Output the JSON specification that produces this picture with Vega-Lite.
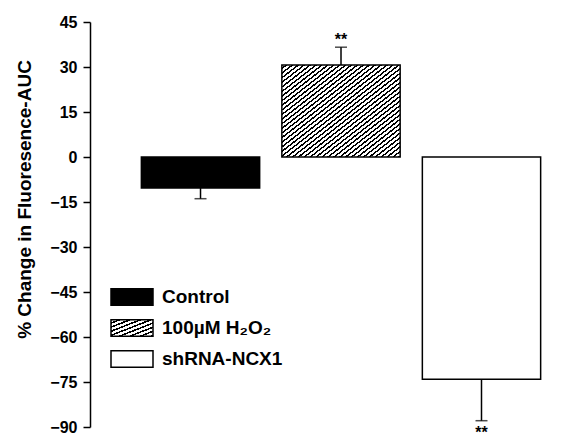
{
  "$schema": "https://vega.github.io/schema/vega-lite/v6.json",
  "width": 492,
  "height": 405,
  "autosize": "none",
  "padding": {"left": 90, "top": 22, "right": 0, "bottom": 10},
  "background": "white",
  "config": {
    "view": {"stroke": null},
    "font": "Liberation Sans"
  },
  "data": {
    "values": [
      {"group": "Control", "value": -10.3, "end": -13.9, "sig": ""},
      {"group": "100µM H₂O₂", "value": 30.7, "end": 36.6, "sig": "**"},
      {"group": "shRNA-NCX1", "value": -74.1, "end": -87.9, "sig": "**"}
    ]
  },
  "encoding": {
    "x": {
      "field": "group",
      "type": "nominal",
      "sort": null,
      "axis": null,
      "scale": {"domain": ["Control", "100µM H₂O₂", "shRNA-NCX1"], "paddingInner": 0.158, "paddingOuter": 0.33, "align": 0.554}
    }
  },
  "layer": [
    {
      "transform": [{"filter": "datum.group === '100µM H₂O₂'"}],
      "mark": {"type": "bar", "fillOpacity": 0.001, "strokeOpacity": 0,
        "fill": {"gradient": "linear", "id": "hatchLegend", "x1": 0, "y1": 0, "x2": 1, "y2": 1, "stops": [
                      {"offset": 0, "color": "#fff"}, {"offset": 0.075, "color": "#fff"}, {"offset": 0.075, "color": "#000"}, {"offset": 0.125, "color": "#000"},
                      {"offset": 0.125, "color": "#fff"}, {"offset": 0.2, "color": "#fff"}, {"offset": 0.2, "color": "#000"}, {"offset": 0.25, "color": "#000"},
                      {"offset": 0.25, "color": "#fff"}, {"offset": 0.325, "color": "#fff"}, {"offset": 0.325, "color": "#000"}, {"offset": 0.375, "color": "#000"},
                      {"offset": 0.375, "color": "#fff"}, {"offset": 0.45, "color": "#fff"}, {"offset": 0.45, "color": "#000"}, {"offset": 0.5, "color": "#000"},
                      {"offset": 0.5, "color": "#fff"}, {"offset": 0.575, "color": "#fff"}, {"offset": 0.575, "color": "#000"}, {"offset": 0.625, "color": "#000"},
                      {"offset": 0.625, "color": "#fff"}, {"offset": 0.7, "color": "#fff"}, {"offset": 0.7, "color": "#000"}, {"offset": 0.75, "color": "#000"},
                      {"offset": 0.75, "color": "#fff"}, {"offset": 0.825, "color": "#fff"}, {"offset": 0.825, "color": "#000"}, {"offset": 0.875, "color": "#000"},
                      {"offset": 0.875, "color": "#fff"}, {"offset": 0.95, "color": "#fff"}, {"offset": 0.95, "color": "#000"}, {"offset": 1, "color": "#000"}
                    ]}},
      "encoding": {
        "y": {"field": "value", "type": "quantitative"},
        "y2": {"datum": 0}
      }
    },
    {
      "transform": [{"filter": "datum.group !== '100µM H₂O₂'"}],
      "mark": {"type": "bar", "stroke": "black", "strokeWidth": 1.5},
      "encoding": {
        "y": {
          "field": "value",
          "type": "quantitative",
          "scale": {"domain": [-90, 45], "nice": false, "zero": false},
          "axis": {
            "values": [-90, -82.5, -75, -67.5, -60, -52.5, -45, -37.5, -30, -22.5, -15, -7.5, 0, 7.5, 15, 22.5, 30, 37.5, 45],
            "labelExpr": "datum.value % 15 === 0 ? datum.label : ''",
            "grid": false,
            "domainColor": "black",
            "domainWidth": 1.5,
            "tickColor": "black",
            "tickWidth": 1.5,
            "tickSize": {"condition": {"test": "datum.value % 15 === 0", "value": 7}, "value": 4},
            "labelPadding": 6,
            "labelFont": "Liberation Sans",
            "labelFontWeight": "bold",
            "labelFontSize": 16,
            "labelColor": "black",
            "title": "% Change in Fluoresence-AUC",
            "titleFont": "Liberation Sans",
            "titleFontWeight": "bold",
            "titleFontSize": 19,
            "titleColor": "black",
            "titleX": -60,
            "titleY": 177,
            "titleAlign": "center",
            "titleBaseline": "alphabetic",
            "titleAngle": -90
          }
        },
        "y2": {"datum": 0},
        "fill": {
          "field": "group",
          "type": "nominal",
          "sort": null,
          "scale": {
            "domain": ["Control", "100µM H₂O₂", "shRNA-NCX1"],
            "range": ["#000000", "url(#hatchLegend)", "#ffffff"]
          },
          "legend": {
            "title": null,
            "orient": "none",
            "legendX": 30.5,
            "legendY": 263.5,
            "symbolType": "M-2,-0.78H2V0.78H-2Z",
            "symbolSize": 441,
            "symbolStrokeWidth": 1.5,
            "symbolOpacity": 1,
            "labelFont": "Liberation Sans",
            "labelFontWeight": "bold",
            "labelFontSize": 19,
            "labelColor": "black",
            "labelOffset": 18.5,
            "rowPadding": 8,
            "labelLimit": 300
          }
        }
      }
    },
    {
      "transform": [{"filter": "datum.group === '100µM H₂O₂'"}],
      "mark": {"type": "bar", "stroke": "black", "strokeWidth": 1.5,
        "fill": {"gradient": "linear", "id": "hatchBar", "x1": 0, "y1": 0, "x2": 1, "y2": 1, "stops": [
                {"offset": 0, "color": "#fff"}, {"offset": 0.015, "color": "#fff"}, {"offset": 0.015, "color": "#000"}, {"offset": 0.025, "color": "#000"},
                {"offset": 0.025, "color": "#fff"}, {"offset": 0.04, "color": "#fff"}, {"offset": 0.04, "color": "#000"}, {"offset": 0.05, "color": "#000"},
                {"offset": 0.05, "color": "#fff"}, {"offset": 0.065, "color": "#fff"}, {"offset": 0.065, "color": "#000"}, {"offset": 0.075, "color": "#000"},
                {"offset": 0.075, "color": "#fff"}, {"offset": 0.09, "color": "#fff"}, {"offset": 0.09, "color": "#000"}, {"offset": 0.1, "color": "#000"},
                {"offset": 0.1, "color": "#fff"}, {"offset": 0.115, "color": "#fff"}, {"offset": 0.115, "color": "#000"}, {"offset": 0.125, "color": "#000"},
                {"offset": 0.125, "color": "#fff"}, {"offset": 0.14, "color": "#fff"}, {"offset": 0.14, "color": "#000"}, {"offset": 0.15, "color": "#000"},
                {"offset": 0.15, "color": "#fff"}, {"offset": 0.165, "color": "#fff"}, {"offset": 0.165, "color": "#000"}, {"offset": 0.175, "color": "#000"},
                {"offset": 0.175, "color": "#fff"}, {"offset": 0.19, "color": "#fff"}, {"offset": 0.19, "color": "#000"}, {"offset": 0.2, "color": "#000"},
                {"offset": 0.2, "color": "#fff"}, {"offset": 0.215, "color": "#fff"}, {"offset": 0.215, "color": "#000"}, {"offset": 0.225, "color": "#000"},
                {"offset": 0.225, "color": "#fff"}, {"offset": 0.24, "color": "#fff"}, {"offset": 0.24, "color": "#000"}, {"offset": 0.25, "color": "#000"},
                {"offset": 0.25, "color": "#fff"}, {"offset": 0.265, "color": "#fff"}, {"offset": 0.265, "color": "#000"}, {"offset": 0.275, "color": "#000"},
                {"offset": 0.275, "color": "#fff"}, {"offset": 0.29, "color": "#fff"}, {"offset": 0.29, "color": "#000"}, {"offset": 0.3, "color": "#000"},
                {"offset": 0.3, "color": "#fff"}, {"offset": 0.315, "color": "#fff"}, {"offset": 0.315, "color": "#000"}, {"offset": 0.325, "color": "#000"},
                {"offset": 0.325, "color": "#fff"}, {"offset": 0.34, "color": "#fff"}, {"offset": 0.34, "color": "#000"}, {"offset": 0.35, "color": "#000"},
                {"offset": 0.35, "color": "#fff"}, {"offset": 0.365, "color": "#fff"}, {"offset": 0.365, "color": "#000"}, {"offset": 0.375, "color": "#000"},
                {"offset": 0.375, "color": "#fff"}, {"offset": 0.39, "color": "#fff"}, {"offset": 0.39, "color": "#000"}, {"offset": 0.4, "color": "#000"},
                {"offset": 0.4, "color": "#fff"}, {"offset": 0.415, "color": "#fff"}, {"offset": 0.415, "color": "#000"}, {"offset": 0.425, "color": "#000"},
                {"offset": 0.425, "color": "#fff"}, {"offset": 0.44, "color": "#fff"}, {"offset": 0.44, "color": "#000"}, {"offset": 0.45, "color": "#000"},
                {"offset": 0.45, "color": "#fff"}, {"offset": 0.465, "color": "#fff"}, {"offset": 0.465, "color": "#000"}, {"offset": 0.475, "color": "#000"},
                {"offset": 0.475, "color": "#fff"}, {"offset": 0.49, "color": "#fff"}, {"offset": 0.49, "color": "#000"}, {"offset": 0.5, "color": "#000"},
                {"offset": 0.5, "color": "#fff"}, {"offset": 0.515, "color": "#fff"}, {"offset": 0.515, "color": "#000"}, {"offset": 0.525, "color": "#000"},
                {"offset": 0.525, "color": "#fff"}, {"offset": 0.54, "color": "#fff"}, {"offset": 0.54, "color": "#000"}, {"offset": 0.55, "color": "#000"},
                {"offset": 0.55, "color": "#fff"}, {"offset": 0.565, "color": "#fff"}, {"offset": 0.565, "color": "#000"}, {"offset": 0.575, "color": "#000"},
                {"offset": 0.575, "color": "#fff"}, {"offset": 0.59, "color": "#fff"}, {"offset": 0.59, "color": "#000"}, {"offset": 0.6, "color": "#000"},
                {"offset": 0.6, "color": "#fff"}, {"offset": 0.615, "color": "#fff"}, {"offset": 0.615, "color": "#000"}, {"offset": 0.625, "color": "#000"},
                {"offset": 0.625, "color": "#fff"}, {"offset": 0.64, "color": "#fff"}, {"offset": 0.64, "color": "#000"}, {"offset": 0.65, "color": "#000"},
                {"offset": 0.65, "color": "#fff"}, {"offset": 0.665, "color": "#fff"}, {"offset": 0.665, "color": "#000"}, {"offset": 0.675, "color": "#000"},
                {"offset": 0.675, "color": "#fff"}, {"offset": 0.69, "color": "#fff"}, {"offset": 0.69, "color": "#000"}, {"offset": 0.7, "color": "#000"},
                {"offset": 0.7, "color": "#fff"}, {"offset": 0.715, "color": "#fff"}, {"offset": 0.715, "color": "#000"}, {"offset": 0.725, "color": "#000"},
                {"offset": 0.725, "color": "#fff"}, {"offset": 0.74, "color": "#fff"}, {"offset": 0.74, "color": "#000"}, {"offset": 0.75, "color": "#000"},
                {"offset": 0.75, "color": "#fff"}, {"offset": 0.765, "color": "#fff"}, {"offset": 0.765, "color": "#000"}, {"offset": 0.775, "color": "#000"},
                {"offset": 0.775, "color": "#fff"}, {"offset": 0.79, "color": "#fff"}, {"offset": 0.79, "color": "#000"}, {"offset": 0.8, "color": "#000"},
                {"offset": 0.8, "color": "#fff"}, {"offset": 0.815, "color": "#fff"}, {"offset": 0.815, "color": "#000"}, {"offset": 0.825, "color": "#000"},
                {"offset": 0.825, "color": "#fff"}, {"offset": 0.84, "color": "#fff"}, {"offset": 0.84, "color": "#000"}, {"offset": 0.85, "color": "#000"},
                {"offset": 0.85, "color": "#fff"}, {"offset": 0.865, "color": "#fff"}, {"offset": 0.865, "color": "#000"}, {"offset": 0.875, "color": "#000"},
                {"offset": 0.875, "color": "#fff"}, {"offset": 0.89, "color": "#fff"}, {"offset": 0.89, "color": "#000"}, {"offset": 0.9, "color": "#000"},
                {"offset": 0.9, "color": "#fff"}, {"offset": 0.915, "color": "#fff"}, {"offset": 0.915, "color": "#000"}, {"offset": 0.925, "color": "#000"},
                {"offset": 0.925, "color": "#fff"}, {"offset": 0.94, "color": "#fff"}, {"offset": 0.94, "color": "#000"}, {"offset": 0.95, "color": "#000"},
                {"offset": 0.95, "color": "#fff"}, {"offset": 0.965, "color": "#fff"}, {"offset": 0.965, "color": "#000"}, {"offset": 0.975, "color": "#000"},
                {"offset": 0.975, "color": "#fff"}, {"offset": 0.99, "color": "#fff"}, {"offset": 0.99, "color": "#000"}, {"offset": 1, "color": "#000"}
              ]}},
      "encoding": {
        "y": {"field": "value", "type": "quantitative"},
        "y2": {"datum": 0}
      }
    },
    {
      "mark": {"type": "rule", "color": "black", "strokeWidth": 1.5},
      "encoding": {
        "y": {"field": "value", "type": "quantitative"},
        "y2": {"field": "end"}
      }
    },
    {
      "mark": {"type": "tick", "color": "black", "thickness": 1.5, "size": 12, "orient": "horizontal"},
      "encoding": {
        "y": {"field": "end", "type": "quantitative"}
      }
    },
    {
      "mark": {"type": "rule", "color": "black", "strokeWidth": 2},
      "encoding": {"y": {"datum": 0}}
    },
    {
      "transform": [{"filter": "datum.sig !== '' && datum.value > 0"}],
      "mark": {"type": "text", "font": "Liberation Sans", "fontWeight": "bold", "fontSize": 16, "baseline": "alphabetic", "dy": -2, "color": "black"},
      "encoding": {
        "y": {"field": "end", "type": "quantitative"},
        "text": {"field": "sig"}
      }
    },
    {
      "transform": [{"filter": "datum.sig !== '' && datum.value < 0"}],
      "mark": {"type": "text", "font": "Liberation Sans", "fontWeight": "bold", "fontSize": 16, "baseline": "alphabetic", "dy": 17, "color": "black", "clip": false},
      "encoding": {
        "y": {"field": "end", "type": "quantitative"},
        "text": {"field": "sig"}
      }
    }
  ]
}
